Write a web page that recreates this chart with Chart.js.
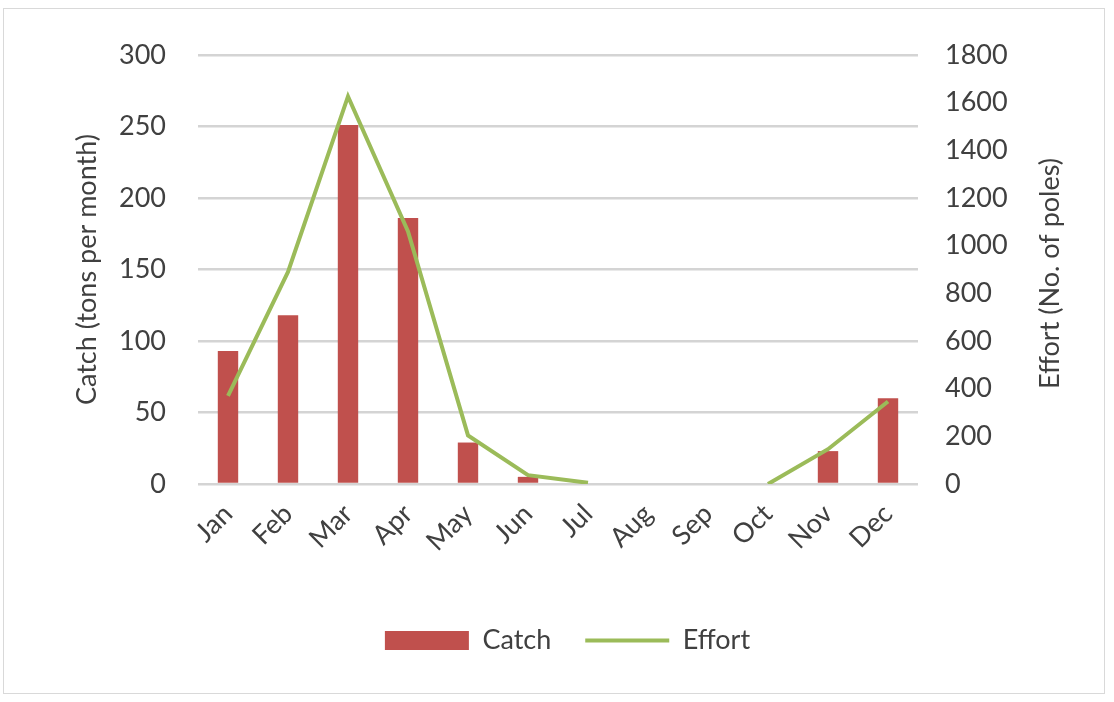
<!DOCTYPE html>
<html>
<head>
<meta charset="utf-8">
<script src="https://cdn.jsdelivr.net/npm/chart.js@4/dist/chart.umd.min.js"></script>
<style>
  html, body { margin: 0; padding: 0; background: #fff; }
  #wrap { position: relative; width: 1114px; height: 702px; }
  #frame { position: absolute; left: 3px; top: 8px; width: 1102px; height: 686px; border: 1.5px solid #d9d9d9; box-sizing: border-box; }
  canvas { position: absolute; left: 0; top: 0; }
</style>
</head>
<body>
<div id="wrap">
  <div id="frame"></div>
  <canvas id="c" width="1114" height="702"></canvas>
</div>
<script>
// monthly catch (bars, left axis) and effort (line, right axis)
const months = ['Jan','Feb','Mar','Apr','May','Jun','Jul','Aug','Sep','Oct','Nov','Dec'];
const catchTons = [93, 118, 251, 186, 29, 5, 0, 0, 0, 0, 23, 60];
const effortPoles = [370, 890, 1626, 1060, 204, 37, 5, null, null, 0, 146, 346];
const catchTicks = [0, 50, 100, 150, 200, 250, 300];
const effortTicks = [0, 200, 400, 600, 800, 1000, 1200, 1400, 1600, 1800];

const FONT = 'Lato, "Open Sans", sans-serif';
const TXT = '#404040';
Chart.defaults.font.family = FONT;
Chart.defaults.font.size = 27;
Chart.defaults.color = TXT;

// right axis title reads bottom-to-top like the left one, chart.js would flip it
const rightTitle = {
  id: 'rightTitle',
  afterDraw(chart) {
    const ctx = chart.ctx, a = chart.chartArea;
    ctx.save();
    ctx.translate(1050, (a.top + a.bottom) / 2 + 4);
    ctx.rotate(-Math.PI / 2);
    ctx.font = '27px ' + FONT;
    ctx.fillStyle = TXT;
    ctx.textAlign = 'center';
    ctx.textBaseline = 'middle';
    ctx.fillText('Effort (No. of poles)', 0, 0);
    ctx.restore();
  }
};

new Chart(document.getElementById('c').getContext('2d'), {
  data: {
    labels: months,
    datasets: [
      {
        type: 'line', label: 'Effort', data: effortPoles, yAxisID: 'y2',
        borderColor: '#9bbb59', backgroundColor: '#9bbb59', borderWidth: 4,
        pointRadius: 0, tension: 0, spanGaps: false, order: 0,
        pointStyle: 'line'
      },
      {
        type: 'bar', label: 'Catch', data: catchTons, yAxisID: 'y',
        backgroundColor: '#c0504d', borderWidth: 0,
        barPercentage: 0.34, categoryPercentage: 1, order: 1,
        pointStyle: 'rect'
      }
    ]
  },
  plugins: [rightTitle],
  options: {
    responsive: false, animation: false,
    layout: { padding: { left: 67, right: 46, top: 55, bottom: 38 } },
    plugins: {
      tooltip: { enabled: false },
      legend: {
        position: 'bottom',
        reverse: true,
        labels: {
          usePointStyle: true, pointStyleWidth: 84, boxHeight: 19,
          padding: 34, color: TXT, font: { size: 27 }
        }
      }
    },
    scales: {
      x: {
        grid: { display: false }, border: { display: false },
        ticks: { minRotation: 45, maxRotation: 45, padding: 6, color: TXT },
        afterFit: s => { s.height = 109; }
      },
      y: {
        position: 'left', min: 0, max: 300,
        afterBuildTicks: s => { s.ticks = catchTicks.map(v => ({ value: v })); },
        grid: { color: '#d4d4d4', lineWidth: 2.5, drawTicks: false },
        border: { display: false },
        ticks: { padding: 32, color: TXT },
        title: { display: true, text: 'Catch (tons per month)', color: TXT, font: { size: 27 }, padding: 4 },
        afterFit: s => { s.width = 131; }
      },
      y2: {
        position: 'right', min: 0, max: 1800,
        afterBuildTicks: s => { s.ticks = effortTicks.map(v => ({ value: v })); },
        grid: { display: false, drawTicks: false },
        border: { display: false },
        ticks: { padding: 27, color: TXT, callback: v => String(v) },
        afterFit: s => { s.width = 150; }
      }
    }
  }
});
</script>
</body>
</html>
